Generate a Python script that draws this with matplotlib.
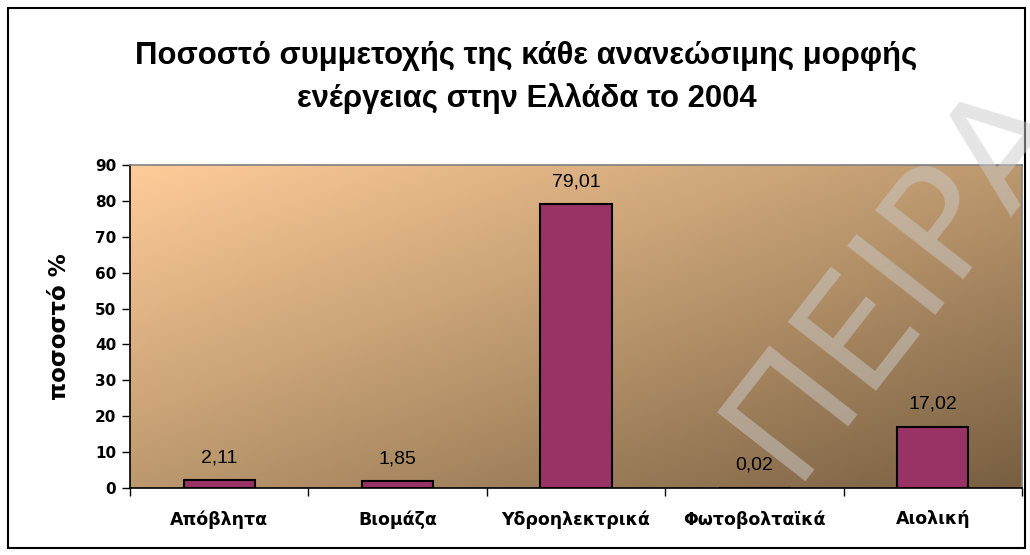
import numpy as np
import matplotlib
matplotlib.use('Agg')
import matplotlib.pyplot as plt
from matplotlib.colors import LinearSegmentedColormap
from matplotlib.patches import Rectangle

plt.rcParams['font.family'] = ['Liberation Sans', 'DejaVu Sans']

# Data
categories = ['Απόβλητα', 'Βιομάζα', 'Υδροηλεκτρικά', 'Φωτοβολταϊκά', 'Αιολική']
values = [2.11, 1.85, 79.01, 0.02, 17.02]
value_labels = ['2,11', '1,85', '79,01', '0,02', '17,02']
yticks = [0, 10, 20, 30, 40, 50, 60, 70, 80, 90]

wide = ['DejaVu Sans']

fig = plt.figure(figsize=(10.3, 5.55), dpi=100)

# outer chart border
fig.patches.append(Rectangle((0.008, 0.012), 0.987, 0.974, transform=fig.transFigure,
                             fill=False, edgecolor='black', linewidth=1.5))

ax = fig.add_axes([0.1262, 0.1207, 0.866, 0.582])

# diagonal gradient background (top-left light peach -> bottom-right brown)
gx = np.linspace(0, 1, 300)
gy = np.linspace(0, 1, 200)
X, Y = np.meshgrid(gx, gy)
grad = (X + Y) / 2
cmap = LinearSegmentedColormap.from_list('bg', ['#FFCC99', '#BC986E', '#785F42'])
ax.imshow(grad, extent=[-0.5, 4.5, 0, 90], aspect='auto', cmap=cmap,
          origin='upper', zorder=0, interpolation='bilinear')

x = np.arange(len(categories))
ax.bar(x, values, width=0.4, color='#993366', edgecolor='black', linewidth=1.5, zorder=2)

for xi, v, lab in zip(x, values, value_labels):
    ax.text(xi, v + 5, lab, ha='center', va='baseline', fontsize=14, color='black', zorder=3)

ax.set_xlim(-0.5, 4.5)
ax.set_ylim(0, 90)
ax.set_yticks(yticks)
ax.set_yticklabels([str(t) for t in yticks], fontsize=11, fontweight='bold', family=wide)
ax.set_xticks(x)
ax.set_xticklabels(categories, fontsize=12.5, fontweight='bold', family=wide)
ax.tick_params(axis='x', length=0, pad=16)
ax.set_xticks(np.arange(-0.5, 5, 1), minor=True)
ax.tick_params(axis='x', which='minor', length=6, width=1, direction='out')
ax.tick_params(axis='y', length=6, width=1, direction='out', pad=4)

ax.spines['left'].set_color('black')
ax.spines['bottom'].set_color('black')
ax.spines['top'].set_color('#808080')
ax.spines['right'].set_color('#808080')
for s in ax.spines.values():
    s.set_linewidth(1.2)

ax.set_ylabel('ποσοστό %', fontsize=16.5, fontweight='bold', family=wide, labelpad=17)

fig.text(0.511, 0.861, 'Ποσοστό συμμετοχής της κάθε ανανεώσιμης μορφής\nενέργειας στην Ελλάδα το 2004',
         ha='center', va='center', fontsize=22.3, fontweight='bold', linespacing=1.5)

# faint watermark across the chart
fig.text(791 / 1030, 1 - 481 / 555, 'ΠΕΙΡΑ', rotation=52, rotation_mode='anchor',
         ha='left', va='baseline', fontsize=110, color='#cccccc', alpha=0.5,
         family=wide, zorder=10)

fig.savefig('out.png', dpi=100)
